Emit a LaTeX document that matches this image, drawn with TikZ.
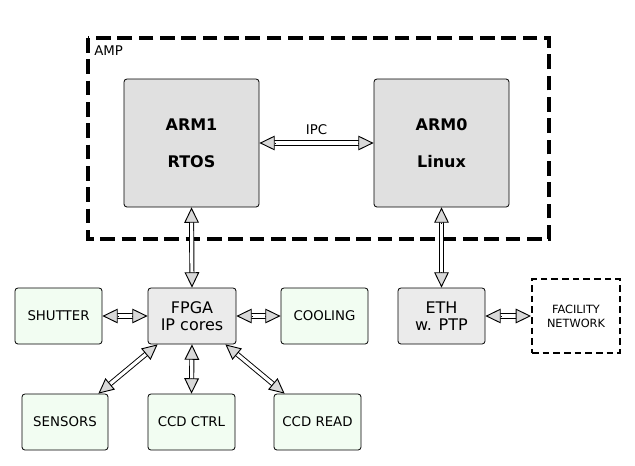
\documentclass[tikz,border=0pt]{standalone}
\usepackage{fontspec}
\setmainfont{DejaVu Sans}
\usetikzlibrary{arrows.meta,calc}
\definecolor{armfill}{HTML}{E0E0E0}
\definecolor{fpgafill}{HTML}{EBEBEB}
\definecolor{greenfill}{HTML}{F2FDF2}
\definecolor{headfill}{HTML}{D9D9D9}
\newcommand\pxu{0.75pt}
\newcommand\dblarr[2]{%
  \draw[shaft] (#1) -- (#2);
  \draw[tiphead] ($(#2)!11.5pt!(#1)$) -- (#2);
  \draw[tiphead] ($(#1)!11.5pt!(#2)$) -- (#1);}
\begin{document}
\begin{tikzpicture}[x=0.75pt,y=-0.75pt,
  box/.style={draw=black, line width=0.6pt, rounded corners=2.2pt, align=center, inner sep=0pt, font=\fontsize{10}{12}\selectfont},
  armbox/.style={box, fill=armfill, minimum width=135*\pxu, minimum height=128*\pxu, font=\fontsize{12}{14}\selectfont\bfseries},
  graybox/.style={box, fill=fpgafill, minimum width=88*\pxu, minimum height=56*\pxu, font=\fontsize{12}{12.75}\selectfont},
  greenbox/.style={box, fill=greenfill, minimum width=87*\pxu, minimum height=56*\pxu},
  shaft/.style={draw=black, line width=0.7pt, double=white, double distance=2.4pt, shorten <=9pt, shorten >=9pt},
  tiphead/.style={draw=black, line width=0.7pt, line join=miter, -{Triangle[length=11.5pt,width=11pt,fill=headfill]}},
]
\useasboundingbox (0,0) rectangle (635,465);
% AMP region
\draw[line width=2.3pt, dash pattern=on 11pt off 5pt] (88,38) rectangle (549,239);
\node[anchor=base west, inner sep=0pt, font=\fontsize{10}{12}\selectfont] (amp) at (94,55) {AMP};
% nodes
\node[armbox] (arm1) at (191.5,143) {ARM1\\[14pt]RTOS};
\node[armbox] (arm0) at (441.5,143) {ARM0\\[14pt]Linux};
\node[graybox] (fpga) at (192,316) {FPGA\\IP cores};
\node[graybox, minimum width=87*\pxu] (eth) at (441.5,316) {ETH\\w. PTP};
\node[greenbox] (shutter) at (58.5,316) {SHUTTER};
\node[greenbox] (cooling) at (324.5,316) {COOLING};
\node[greenbox, minimum width=86*\pxu] (sensors) at (65,422) {SENSORS};
\node[greenbox] (ccdctrl) at (191.5,422) {CCD CTRL};
\node[greenbox] (ccdread) at (317.5,422) {CCD READ};
\node[draw=black, line width=1.5pt, dash pattern=on 5pt off 3pt, align=center, inner sep=0pt,
  minimum width=88*\pxu, minimum height=74*\pxu, font=\fontsize{8.5}{10.5}\selectfont] (fac) at (576,316) {FACILITY\\NETWORK};
\node[font=\fontsize{10}{12}\selectfont, anchor=base] (ipc) at ($(arm1.east)!0.5!(arm0.west)+(0,-9)$) {IPC};
% connector end points
\coordinate (fsw) at ($(fpga.south west)+(10,0)$);
\coordinate (sne) at ($(sensors.north east)+(-10,0)$);
\coordinate (fse) at ($(fpga.south east)+(-11,0)$);
\coordinate (rnw) at ($(ccdread.north west)+(11,0)$);
% connectors
\dblarr{arm1.east}{arm0.west}
\dblarr{arm1.south}{fpga.north}
\dblarr{arm0.south}{eth.north}
\dblarr{shutter.east}{fpga.west}
\dblarr{fpga.east}{cooling.west}
\dblarr{eth.east}{fac.west}
\dblarr{fpga.south}{ccdctrl.north}
\dblarr{fsw}{sne}
\dblarr{fse}{rnw}
\end{tikzpicture}
\end{document}
